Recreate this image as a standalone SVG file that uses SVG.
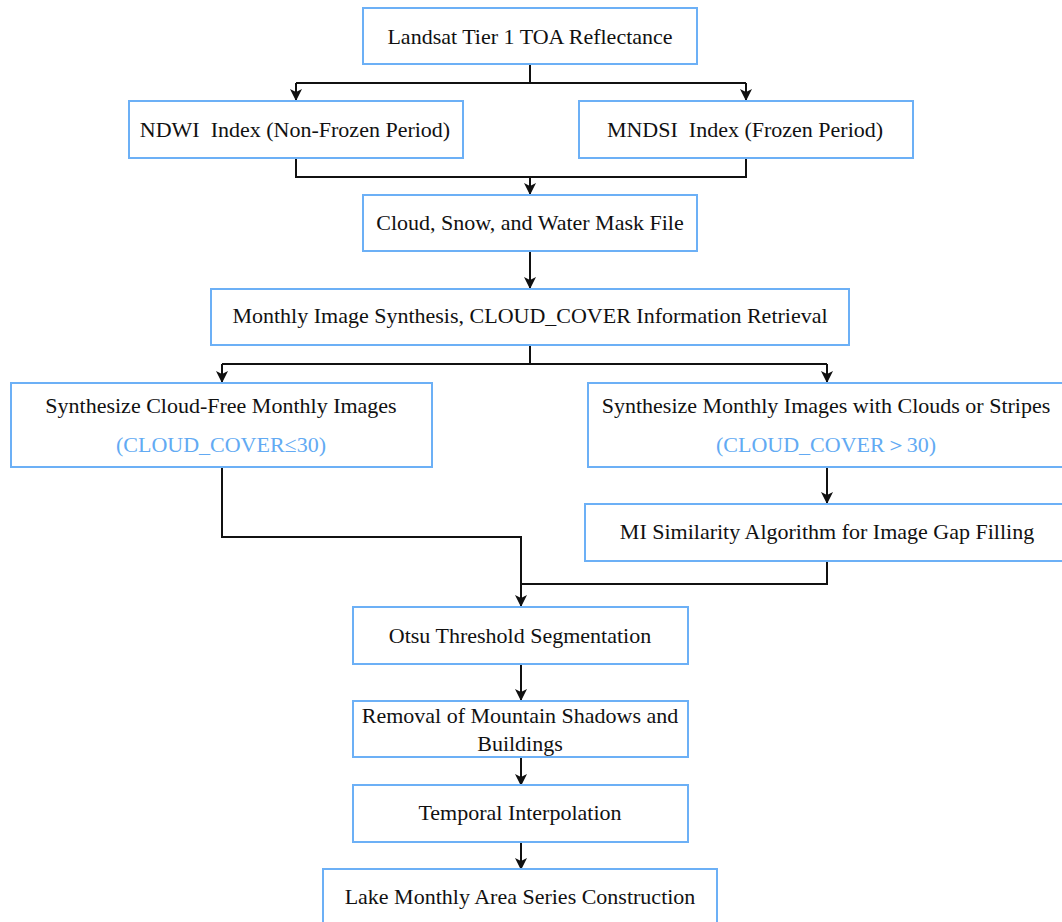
<svg xmlns="http://www.w3.org/2000/svg" width="1062" height="922" viewBox="0 0 1062 922">
<defs>
<style>
.box{fill:#fff;stroke:#6cb0f6;stroke-width:2}
.t{font-family:"Liberation Serif","Times New Roman",serif;font-size:22px;fill:#111;text-anchor:middle;white-space:pre}
.b{fill:#62aaf3}
.c{fill:none;stroke:#111;stroke-width:2}
</style>
<marker id="ar" viewBox="0 0 12 12" refX="11" refY="6" markerWidth="12" markerHeight="12" markerUnits="userSpaceOnUse" orient="auto">
<path d="M0,0 L3,6 L0,12 L12,6 Z" fill="#111"/>
</marker>
</defs>
<rect width="1062" height="922" fill="#fff"/>
<g id="connectors">
<path class="c" d="M530,64 V83"/>
<path class="c" d="M296,83 H746"/>
<path class="c" d="M296,83 V100" marker-end="url(#ar)"/>
<path class="c" d="M746,83 V100" marker-end="url(#ar)"/>
<path class="c" d="M296,158 V177 H746 V158"/>
<path class="c" d="M530,177 V194" marker-end="url(#ar)"/>
<path class="c" d="M530,251 V288" marker-end="url(#ar)"/>
<path class="c" d="M530,345 V364"/>
<path class="c" d="M222,364 H827"/>
<path class="c" d="M222,364 V382" marker-end="url(#ar)"/>
<path class="c" d="M827,364 V382" marker-end="url(#ar)"/>
<path class="c" d="M827,467 V503" marker-end="url(#ar)"/>
<path class="c" d="M222,467 V537 H521 V606" marker-end="url(#ar)"/>
<path class="c" d="M827,561 V584 H521"/>
<path class="c" d="M521,664 V700" marker-end="url(#ar)"/>
<path class="c" d="M521,757 V785" marker-end="url(#ar)"/>
<path class="c" d="M521,842 V869" marker-end="url(#ar)"/>
</g>
<g id="n1"><rect class="box" x="363" y="8" width="334" height="56"/><text class="t" x="530" y="44">Landsat Tier 1 TOA Reflectance</text></g>
<g id="n2"><rect class="box" x="129" y="101" width="334" height="57"/><text class="t" x="295" y="137">NDWI  Index (Non-Frozen Period)</text></g>
<g id="n3"><rect class="box" x="579" y="101" width="334" height="57"/><text class="t" x="745" y="137">MNDSI  Index (Frozen Period)</text></g>
<g id="n4"><rect class="box" x="363" y="195" width="334" height="56"/><text class="t" x="530" y="230">Cloud, Snow, and Water Mask File</text></g>
<g id="n5"><rect class="box" x="211" y="289" width="638" height="56"/><text class="t" x="530" y="323">Monthly Image Synthesis, CLOUD_COVER Information Retrieval</text></g>
<g id="n6"><rect class="box" x="11" y="383" width="421" height="84"/><text class="t" x="221" y="413">Synthesize Cloud-Free Monthly Images</text><text class="t b" x="221" y="452">(CLOUD_COVER≤30)</text></g>
<g id="n7"><rect class="box" x="588" y="383" width="480" height="84"/><text class="t" x="826" y="413">Synthesize Monthly Images with Clouds or Stripes</text><text class="t b" x="826" y="452">(CLOUD_COVER＞30)</text></g>
<g id="n8"><rect class="box" x="585" y="504" width="483" height="57"/><text class="t" x="827" y="539">MI Similarity Algorithm for Image Gap Filling</text></g>
<g id="n9"><rect class="box" x="353" y="607" width="335" height="57"/><text class="t" x="520" y="643">Otsu Threshold Segmentation</text></g>
<g id="n10"><rect class="box" x="353" y="701" width="335" height="56"/><text class="t" x="520" y="723">Removal of Mountain Shadows and</text><text class="t" x="520" y="751">Buildings</text></g>
<g id="n11"><rect class="box" x="353" y="785" width="335" height="57"/><text class="t" x="520" y="820">Temporal Interpolation</text></g>
<g id="n12"><rect class="box" x="323" y="869" width="394" height="60"/><text class="t" x="520" y="904">Lake Monthly Area Series Construction</text></g>
</svg>
